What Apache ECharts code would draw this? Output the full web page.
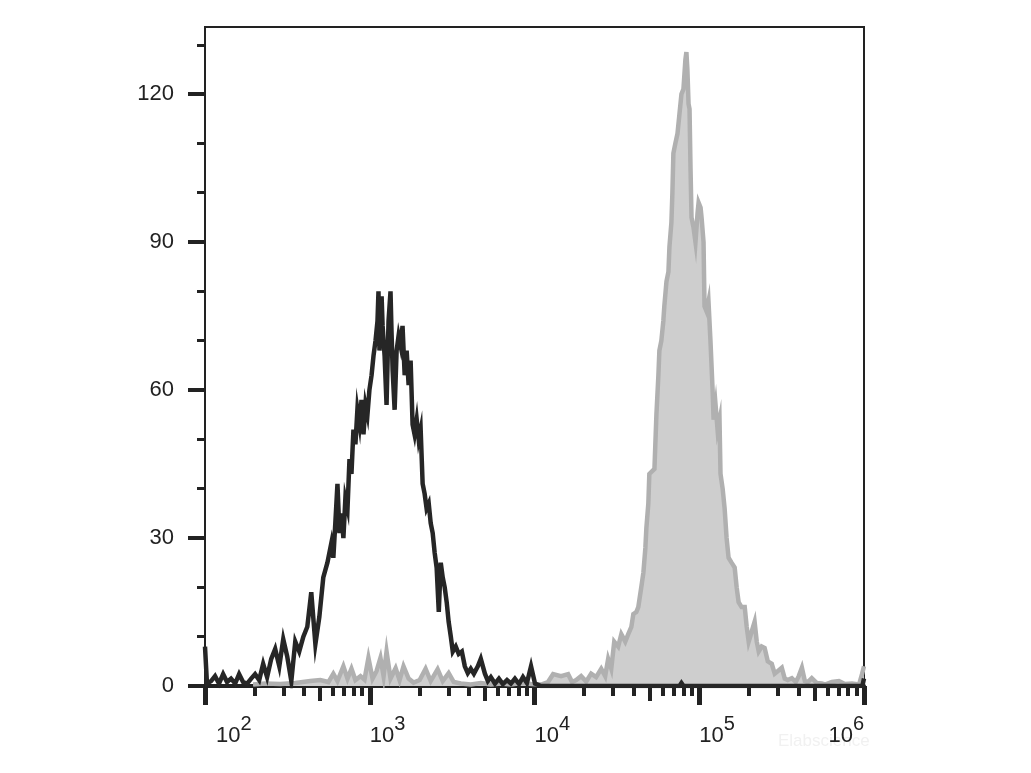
<!DOCTYPE html>
<html>
<head>
<meta charset="utf-8">
<script src="https://cdn.jsdelivr.net/npm/echarts@6/dist/echarts.min.js"></script>
<style>
html,body{margin:0;padding:0;background:#fff;}
#chart{width:1031px;height:773px;}
</style>
</head>
<body>
<div id="chart"></div>
<script>
// x positions given as log10 exponents of fluorescence intensity
const blackExp = [2.000,2.012,2.037,2.061,2.085,2.110,2.134,2.158,2.183,2.207,2.231,2.256,2.280,2.304,2.329,2.353,2.377,2.402,2.426,2.451,2.475,2.499,2.524,2.548,2.572,2.597,2.621,2.645,2.670,2.694,2.718,2.743,
  2.767,2.779,2.791,2.804,2.816,2.828,2.840,2.852,2.865,2.877,2.889,2.901,2.913,2.925,2.938,2.950,2.962,2.974,2.986,2.998,3.011,3.023,3.035,3.047,3.053,3.059,3.072,3.078,3.090,3.102,3.114,3.126,3.132,3.139,3.151,3.163,3.175,3.187,3.199,3.212,3.224,3.236,3.248,3.260,3.272,3.285,3.297,3.309,3.321,3.333,3.345,3.358,3.370,3.382,3.394,3.406,3.419,3.431,3.443,3.455,3.467,3.479,3.492,
  3.504,3.522,3.540,3.559,3.577,3.595,3.613,3.632,3.656,3.674,3.699,3.717,3.735,3.760,3.784,3.808,3.833,3.857,3.881,3.906,3.930,3.954,3.979,4.003,4.040,4.500,4.880,4.892,4.905,5.500,5.990,6.000];
const blackCount = [8,0.5,1,2,0.5,2.4,0.8,1.5,0.5,2.4,0.8,0.5,1.5,2.4,1.2,4.5,1.8,5.5,7.5,4,9.5,6,1,9,7,10,12,19,8.5,14,22,25,
  29,26,33,41,31,35,30,38,36,46,43,52,49,56,53,58,51,57,55,60,63,67,70,74,80,68,79,73,67,57,74,80,72,64,56,68,71,69,73,63,68,61,66,53,51,54,50,52,41,39,36,37,33,31,27,24,15,25,22,20,17,13,10,
  7,8,6.5,7,4,2.6,3.5,2.5,4,5.5,2.5,1,1.8,0.5,1.5,0.4,1.2,0.5,1.5,0.4,1.8,0.6,4,0.5,0,0,0,0.6,0,0,0,1.5];

const grayExp = [2.292,2.365,2.457,2.548,2.639,2.700,2.749,2.779,2.804,2.840,2.865,2.889,2.913,2.944,2.968,2.992,3.017,3.041,3.065,3.084,3.102,3.126,3.157,3.181,3.205,3.236,3.266,3.303,3.339,3.370,3.412,3.443,3.479,3.510,3.553,3.613,3.674,3.735,3.796,3.857,3.918,3.979,4.040,4.082,4.113,4.161,4.204,4.228,4.253,4.283,4.314,4.344,4.374,4.405,4.429,4.447,4.466,4.484,4.508,4.527,4.551,4.569,4.588,4.600,4.618,4.630,4.648,4.661,4.673,4.679,4.691,4.697,4.709,4.728,4.740,4.752,4.758,4.770,4.782,4.788,4.801,4.813,4.819,4.831,4.837,4.843,4.855,4.868,4.880,4.892,4.904,4.916,4.922,4.928,4.935,4.941,4.947,4.953,4.965,4.977,4.990,4.996,5.008,5.014,5.026,5.032,5.044,5.056,5.068,5.081,5.087,5.099,5.111,5.123,5.129,5.142,5.154,5.166,5.178,5.196,5.215,5.227,5.239,5.257,5.276,5.288,5.300,5.318,5.336,5.349,5.361,5.379,5.397,5.416,5.440,5.458,5.476,5.501,5.519,5.537,5.562,5.586,5.604,5.623,5.641,5.659,5.683,5.714,5.744,5.763,5.805,5.848,5.884,5.927,5.970,5.988,6.000];
const grayCount = [0.3,0.5,0.4,0.6,1.0,1.2,0.8,2.5,1,4,1.5,3.5,1.2,2,1.3,5.7,1.5,3,5.7,2,7,1.5,3.6,1.2,4,1.5,0.7,1.2,3.5,1.0,3.4,1.0,2.6,0.8,0.5,0.3,0.6,0.3,0.5,0.3,0.6,0.4,0.3,0.8,2.4,2.0,2.4,0.8,1.2,2,0.9,2.5,1.8,3.5,2.0,5.5,3.5,9,8,10.5,9,10.5,12,14.6,15,16,20,23,28,32,37,43,43,44,55,63,68,70,74,77,82,84,89,94,100,108,110,112,116,120,121,127,128.5,125,118,117,105,95,93,90,96,98,97,95,90,77,76,78,70,60,54,57,52,54,43,40,36,30,26,25,24,20,17,16,16,12,9,11,13,9,7,8,7.7,5,4.5,2.5,3,3.7,1.5,1.2,1.6,0.8,2,3.7,1,0.8,1.6,0.6,0.5,0.3,0.8,1,0.4,0.5,0.3,2.4,4];

const xMajorTicks = [100, 1000, 10000, 100000, 1000000];
const xExponentLabels = ['2', '3', '4', '5', '6'];
const xHalfTicks = [500, 5000, 50000, 500000];
const xMinorTicks = [200,300,400,600,700,800,900,2000,3000,4000,6000,7000,8000,9000,20000,30000,40000,60000,70000,80000,90000,200000,300000,400000,600000,700000,800000,900000];
const yMajorTicks = [0, 30, 60, 90, 120];
const yMinorTicks = [10, 20, 40, 50, 70, 80, 100, 110, 130];

const toPairs = (ex, cnt) => ex.map((e, i) => [Math.pow(10, e), cnt[i]]);

const AX = '#222';
const FONT = 'Arial, "Liberation Sans", sans-serif';
const xMin = 100, xMax = 1000000, yMax = 133.6;

function xAxisBase(extra) {
  return Object.assign({
    type: 'log', logBase: 10, min: xMin, max: xMax, position: 'bottom',
    axisLine: { show: false, onZero: false },
    splitLine: { show: false }, minorTick: { show: false }, minorSplitLine: { show: false },
    axisLabel: { show: false }
  }, extra);
}

const chart = echarts.init(document.getElementById('chart'), null, { renderer: 'canvas' });
chart.setOption({
  animation: false,
  backgroundColor: '#ffffff',
  grid: { left: 205, right: 167, top: 27, bottom: 87, show: true, borderColor: AX, borderWidth: 2, backgroundColor: 'transparent' },
  xAxis: [
    xAxisBase({
      axisLine: { show: true, onZero: false, lineStyle: { color: AX, width: 4 } },
      axisTick: { show: true, inside: false, length: 19, lineStyle: { color: AX, width: 5 }, customValues: xMajorTicks },
      axisLabel: {
        show: true, margin: 23, align: 'left', alignMaxLabel: 'right', customValues: xMajorTicks,
        color: AX, fontFamily: FONT,
        formatter: function (v) {
          const i = xMajorTicks.findIndex(t => Math.abs(Math.log10(t) - Math.log10(v)) < 1e-6);
          const sup = i >= 0 ? xExponentLabels[i] : '';
          return (i === 0 ? '{b0|10}' : '{b|10}') + '{s|' + sup + '}';
        },
        rich: {
          b: { fontSize: 22, lineHeight: 38, verticalAlign: 'bottom', color: AX, fontFamily: FONT },
          b0: { fontSize: 22, lineHeight: 38, verticalAlign: 'bottom', padding: [0, 0, 0, 11], color: AX, fontFamily: FONT },
          s: { fontSize: 20, lineHeight: 20, verticalAlign: 'top', padding: [5, 0, 0, 0], color: AX, fontFamily: FONT }
        }
      }
    }),
    xAxisBase({ axisTick: { show: true, length: 15, lineStyle: { color: AX, width: 4 }, customValues: xHalfTicks } }),
    xAxisBase({ axisTick: { show: true, length: 10, lineStyle: { color: AX, width: 4 }, customValues: xMinorTicks } })
  ],
  yAxis: [
    {
      type: 'value', min: 0, max: yMax, position: 'left',
      axisLine: { show: true, lineStyle: { color: AX, width: 2 } },
      axisTick: { show: true, length: 17, lineStyle: { color: AX, width: 4 }, customValues: yMajorTicks },
      axisLabel: { show: true, margin: 31, customValues: yMajorTicks, color: AX, fontSize: 22, fontFamily: FONT },
      splitLine: { show: false }
    },
    {
      type: 'value', min: 0, max: yMax, position: 'left',
      axisLine: { show: false },
      axisTick: { show: true, length: 8, lineStyle: { color: AX, width: 3 }, customValues: yMinorTicks },
      axisLabel: { show: false },
      splitLine: { show: false }
    }
  ],
  series: [
    {
      name: 'stained', type: 'line', xAxisIndex: 0, yAxisIndex: 0,
      data: toPairs(grayExp, grayCount),
      showSymbol: false, symbol: 'none', smooth: false,
      lineStyle: { color: '#b0b0b0', width: 4.5, join: 'miter' },
      areaStyle: { color: '#cecece', opacity: 1 },
      z: 2
    },
    {
      name: 'control', type: 'line', xAxisIndex: 0, yAxisIndex: 0,
      data: toPairs(blackExp, blackCount),
      showSymbol: false, symbol: 'none', smooth: false,
      lineStyle: { color: '#262626', width: 4.5, join: 'miter' },
      z: 3
    }
  ],
  graphic: [
    { type: 'text', left: 778, top: 733, style: { text: 'Elabscience', fill: '#f1f1f1', fontSize: 17, fontFamily: FONT }, silent: true }
  ]
});
</script>
</body>
</html>
